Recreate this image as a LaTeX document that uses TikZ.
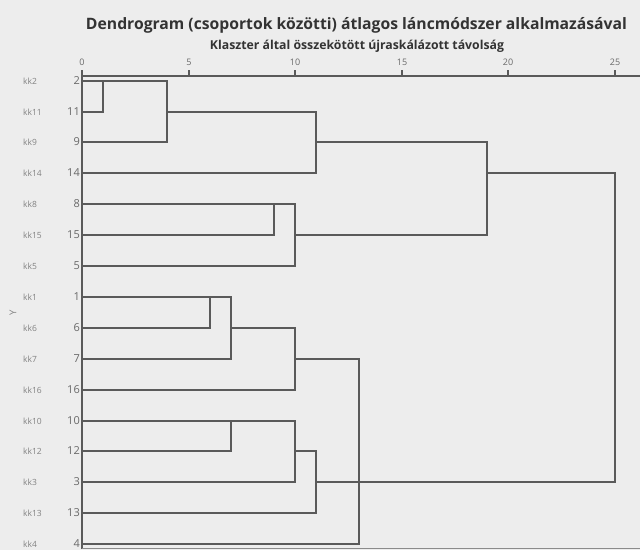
\documentclass[tikz,border=0pt]{standalone}
\usepackage{fontspec}
\setmainfont{Open Sans}
\usepackage{graphicx}
\definecolor{paper}{RGB}{237,237,237}
\definecolor{ink}{RGB}{90,90,90}
\definecolor{numc}{RGB}{105,105,105}
\definecolor{kkc}{RGB}{130,130,130}
\newcommand\dbracket[3]{\draw[link] (#1) -- (#1 -| #3) -- (#2 -| #3) -- (#2);}
\newcommand\dpt[3]{\coordinate (#1) at ({round(82+21.3*#2)},{round(80.7+30.9*#3)});}
\begin{document}
\begin{tikzpicture}[x=1pt,y=-1pt,
  link/.style={draw=ink, line width=2pt, line join=miter},
  axisline/.style={draw=ink, line width=2pt},
  ticklab/.style={font=\fontsize{9}{9}\selectfont, text=numc, inner sep=0pt},
  numlab/.style={font=\fontsize{11}{11}\selectfont, text=numc, inner sep=0pt, anchor=east},
  kklab/.style={font=\fontsize{8.5}{8.5}\selectfont, text=kkc, inner sep=0pt, anchor=west}]
\fill[paper] (0,0) rectangle (640,550);
\useasboundingbox (0,0) rectangle (640,550);
% titles
\node[inner sep=0pt, text=black!80] (title) at (356.5,25) {\resizebox{541pt}{!}{\bfseries Dendrogram (csoportok közötti) átlagos láncmódszer alkalmazásával}};
\node[inner sep=0pt, text=black!80] (sub) at (357,46) {\resizebox{294pt}{!}{\bfseries Klaszter által összekötött újraskálázott távolság}};
% axis
\coordinate (ax0) at (82,76);
\coordinate (axR) at (640,76);
\coordinate (axB) at (82,548.5);
\coordinate (axBR) at (640,548.5);
\draw[axisline] (axR) -- (ax0) -- (axB);
\draw[draw=ink!70, line width=1pt] (axB) -- (axBR);
\foreach \k in {0,5,...,25} {
  \coordinate (tb\k) at ({round(82+21.3*\k)},76);
  \coordinate (tt\k) at ({round(82+21.3*\k)},70);
  \draw[axisline] (tb\k) -- (tt\k);
  \node[ticklab] (t\k) at ({round(82+21.3*\k)},62) {\k};
}
\node[kklab, anchor=center, rotate=90, font=\fontsize{9.5}{9.5}\selectfont] (ylab) at (13,313) {Y};
% leaves
\foreach \n [count=\i from 0] in {2,11,9,14,8,15,5,1,6,7,16,10,12,3,13,4} {
  \node[numlab] (n\n) at (80,{round(80.7+30.9*\i)}) {\n};
  \node[kklab] (k\n) at (23,{round(80.7+30.9*\i)}) {kk\n};
  \dpt{l\n}{0}{\i}
}
\dpt{m1}{1}{0}
\dpt{m2}{4}{1}
\dpt{m3}{11}{2}
\dpt{m4}{9}{4}
\dpt{m5}{10}{5}
\dpt{m6}{19}{3}
\dpt{m7}{6}{7}
\dpt{m8}{7}{8}
\dpt{m9}{10}{9}
\dpt{m10}{7}{11}
\dpt{m11}{10}{12}
\dpt{m12}{11}{13}
\dpt{m13}{13}{11}
\dpt{m14}{13}{13}
\dpt{m15}{25}{8}
\dbracket{l2}{l11}{m1}
\dbracket{m1}{l9}{m2}
\dbracket{m2}{l14}{m3}
\dbracket{l8}{l15}{m4}
\dbracket{m4}{l5}{m5}
\dbracket{m3}{m5}{m6}
\dbracket{l1}{l6}{m7}
\dbracket{m7}{l7}{m8}
\dbracket{m8}{l16}{m9}
\dbracket{l10}{l12}{m10}
\dbracket{m10}{l3}{m11}
\dbracket{m11}{l13}{m12}
\dbracket{m9}{m12}{m13}
\dbracket{m13}{l4}{m14}
\dbracket{m6}{m14}{m15}
\end{tikzpicture}
\end{document}
